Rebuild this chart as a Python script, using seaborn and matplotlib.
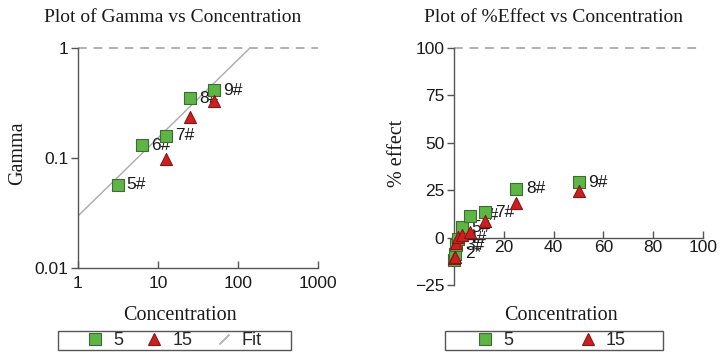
import matplotlib
matplotlib.use("Agg")
import matplotlib.pyplot as plt
from matplotlib.lines import Line2D
from matplotlib.patches import Rectangle
from matplotlib.ticker import FixedLocator, FixedFormatter, NullLocator
import seaborn as sns

# Gamma vs concentration (log-log panel)
gamma_conc_5 = [3.125, 6.25, 12.5, 25, 50]
gamma_5 = [0.057, 0.131, 0.160, 0.350, 0.415]
gamma_labels_5 = ["5#", "6#", "7#", "8#", "9#"]
gamma_conc_15 = [12.5, 25, 50]
gamma_15 = [0.098, 0.236, 0.330]
fit_conc = [1, 141]
fit_gamma = [0.0297, 1.0]

# %Effect vs concentration (linear panel)
eff_conc_5 = [0.195, 0.39, 0.78, 1.5625, 3.125, 6.25, 12.5, 25, 50]
eff_5 = [-12, -8.5, -4, -0.5, 5.4, 11.5, 13.5, 25.8, 29.1]
eff_labels_5 = ["", "2*", "3#", "4#", "5#", "6#", "7#", "8#", "9#"]
eff_conc_15 = [0.195, 0.39, 0.78, 1.5625, 3.125, 6.25, 12.5, 25, 50]
eff_15 = [-11, -10, -3, 0.3, 1.5, 3.0, 8.5, 18.5, 24.5]

sns.set_style("ticks")
plt.rcParams["font.family"] = ["Liberation Sans", "DejaVu Sans"]

green = "#5cb545"
green_edge = "#3d6b33"
red = "#cc1f1f"
red_edge = "#8a1515"
axis_col = "#555555"
W, H = 720, 354

fig = plt.figure(figsize=(7.2, 3.54), dpi=100)
ax1 = fig.add_axes([78 / W, 1 - 268 / H, 240 / W, 220 / H])
ax2 = fig.add_axes([454 / W, 1 - 285 / H, 249 / W, 237 / H])


def style_axes(ax):
    for s in ["top", "right"]:
        ax.spines[s].set_visible(False)
    for s in ["left", "bottom"]:
        ax.spines[s].set_color(axis_col)
        ax.spines[s].set_linewidth(1.0)
    ax.tick_params(axis="both", colors=axis_col, labelcolor="#1a1a1a",
                   labelsize=12.5, width=1.0, length=5)
    ax.tick_params(axis="x", direction="in")
    ax.tick_params(axis="y", direction="out", pad=2)
    ax.set_xlabel("")
    ax.set_ylabel("")


# ---- left panel
ax1.set_xscale("log")
ax1.set_yscale("log")
ax1.axhline(1, color="#b0b0b0", lw=1.4, ls=(0, (4.5, 3.5)), zorder=1, clip_on=False)
sns.lineplot(x=fit_conc, y=fit_gamma, color="#aaaaaa", lw=1.0, ax=ax1, zorder=1)
for xx, yy, lab in zip(gamma_conc_5, gamma_5, gamma_labels_5):
    ax1.annotate(lab, (xx, yy), xytext=(6.5, 0), textcoords="offset points",
                 va="center", ha="left", fontsize=12.5, color="#1a1a1a", zorder=2)
sns.scatterplot(x=gamma_conc_5, y=gamma_5, marker="s", s=70, color=green,
                edgecolor=green_edge, linewidth=0.8, ax=ax1, zorder=3, legend=False)
sns.scatterplot(x=gamma_conc_15, y=gamma_15, marker="^", s=75, color=red,
                edgecolor=red_edge, linewidth=0.8, ax=ax1, zorder=3, legend=False)
ax1.set_xlim(1, 1000)
ax1.set_ylim(0.01, 1)
style_axes(ax1)
ax1.xaxis.set_major_locator(FixedLocator([1, 10, 100, 1000]))
ax1.xaxis.set_major_formatter(FixedFormatter(["1", "10", "100", "1000"]))
ax1.xaxis.set_minor_locator(NullLocator())
ax1.yaxis.set_major_locator(FixedLocator([0.01, 0.1, 1]))
ax1.yaxis.set_major_formatter(FixedFormatter(["0.01", "0.1", "1"]))
ax1.yaxis.set_minor_locator(NullLocator())
ax1.tick_params(axis="x", pad=6)

# ---- right panel
ax2.axhline(100, color="#b0b0b0", lw=1.4, ls=(0, (4.5, 3.5)), zorder=1, clip_on=False)
for xx, yy, lab in zip(eff_conc_5, eff_5, eff_labels_5):
    if lab:
        ax2.annotate(lab, (xx, yy), xytext=(7, 0), textcoords="offset points",
                     va="center", ha="left", fontsize=12.5, color="#1a1a1a", zorder=2)
sns.scatterplot(x=eff_conc_5, y=eff_5, marker="s", s=70, color=green,
                edgecolor=green_edge, linewidth=0.8, ax=ax2, zorder=3, legend=False,
                clip_on=False)
sns.scatterplot(x=eff_conc_15, y=eff_15, marker="^", s=75, color=red,
                edgecolor=red_edge, linewidth=0.8, ax=ax2, zorder=3, legend=False,
                clip_on=False)
ax2.set_xlim(0, 100)
ax2.set_ylim(-25, 100)
style_axes(ax2)
ax2.spines["bottom"].set_position(("data", 0))
ax2.set_xticks([20, 40, 60, 80, 100])
ax2.set_yticks([-25, 0, 25, 50, 75, 100])
ax2.tick_params(axis="x", pad=2)

# ---- titles and labels
serif = ["Liberation Serif", "DejaVu Serif"]
fig.text(173 / W, 1 - 18 / H, "Plot of Gamma vs Concentration", ha="center",
         va="center", fontsize=14, family=serif, color="#1a1a1a")
fig.text(554 / W, 1 - 18 / H, "Plot of %Effect vs Concentration", ha="center",
         va="center", fontsize=14, family=serif, color="#1a1a1a")
fig.text(180 / W, 1 - 316 / H, "Concentration", ha="center", va="center",
         fontsize=14.5, family=serif, color="#1a1a1a")
fig.text(561 / W, 1 - 316 / H, "Concentration", ha="center", va="center",
         fontsize=14.5, family=serif, color="#1a1a1a")
fig.text(18 / W, 1 - 153 / H, "Gamma", ha="center", va="center", rotation=90,
         fontsize=14.5, family=serif, color="#1a1a1a")
fig.text(398 / W, 1 - 153 / H, "% effect", ha="center", va="center", rotation=90,
         fontsize=14.5, family=serif, color="#1a1a1a")

# ---- legends (frame drawn separately, entries spread inside)
h_sq = Line2D([], [], marker="s", ls="none", markersize=8, markerfacecolor=green,
              markeredgecolor=green_edge, markeredgewidth=0.8)
h_tri = Line2D([], [], marker="^", ls="none", markersize=8.5, markerfacecolor=red,
               markeredgecolor=red_edge, markeredgewidth=0.8)
h_fit = Line2D([], [], marker=(2, 2, -45), ls="none", markersize=10,
               markeredgecolor="#bbbbbb", markeredgewidth=1.0)

for x0, x1 in [(58, 291), (445, 663)]:
    fig.patches.append(Rectangle((x0 / W, 1 - 350 / H), (x1 - x0) / W, 19 / H,
                                 transform=fig.transFigure, fill=False,
                                 edgecolor="#555555", lw=1.0))

fig.legend([h_sq, h_tri, h_fit], ["5", "15", "Fit"], ncol=3, mode="expand",
           loc="center", bbox_to_anchor=(84 / W, 1 - 350 / H, 178 / W, 19 / H),
           fontsize=13, frameon=False, handletextpad=0.4, borderpad=0,
           borderaxespad=0, handlelength=1.2)
fig.legend([h_sq, h_tri], ["5", "15"], ncol=2, mode="expand",
           loc="center", bbox_to_anchor=(474 / W, 1 - 350 / H, 152 / W, 19 / H),
           fontsize=13, frameon=False, handletextpad=0.4, borderpad=0,
           borderaxespad=0, handlelength=1.2)

plt.savefig("out.png", dpi=100)
